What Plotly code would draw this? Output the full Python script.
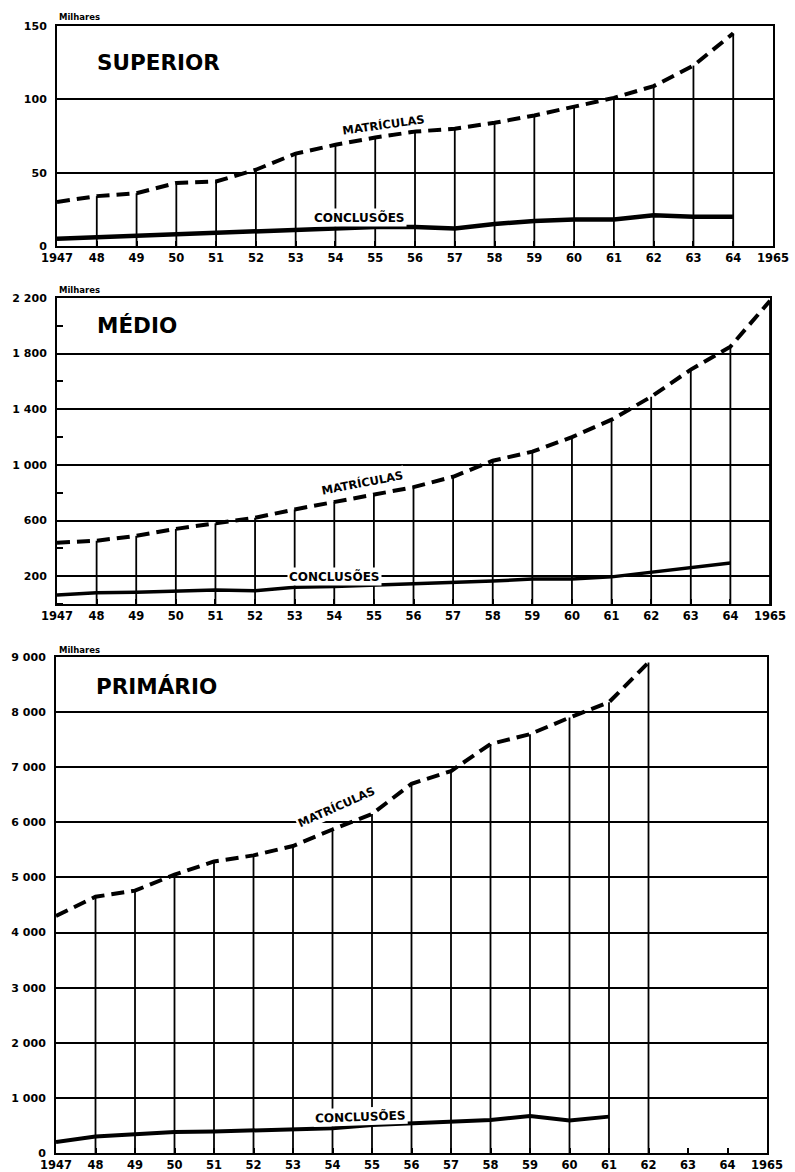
import plotly.graph_objects as go

# ---------------- data (thousands) ----------------
sup_years = list(range(1947, 1965))
sup_matriculas = [30, 34, 36, 43, 44, 52, 63, 69, 74, 78, 80, 84, 89, 95, 101, 109, 123, 145]
sup_conclusoes = [5, 6, 7, 8, 9, 10, 11, 12, 13, 13, 12, 15, 17, 18, 18, 21, 20, 20]

med_mat_years = list(range(1947, 1966))
med_matriculas = [440, 455, 490, 540, 580, 620, 680, 735, 785, 840, 915, 1030, 1095, 1200,
                  1325, 1490, 1685, 1850, 2180]
med_con_years = list(range(1947, 1965))
med_conclusoes = [65, 80, 85, 95, 100, 95, 120, 125, 135, 145, 150, 165, 180, 180, 195, 230, 260, 295]

pri_mat_years = list(range(1947, 1963))
pri_matriculas = [4300, 4650, 4760, 5050, 5290, 5400, 5570, 5870, 6150, 6700, 6930, 7420,
                  7600, 7900, 8180, 8900]
pri_con_years = list(range(1947, 1962))
pri_conclusoes = [200, 300, 340, 380, 390, 410, 420, 450, 510, 540, 560, 600, 670, 590, 660]

x_tickvals = list(range(1947, 1966))
x_ticktext = ["1947", "48", "49", "50", "51", "52", "53", "54", "55", "56", "57", "58",
              "59", "60", "61", "62", "63", "64", "1965"]

sup_tickvals = [0, 50, 100, 150]
sup_ticktext = ["0", "50", "100", "150"]
med_tickvals = [200, 600, 1000, 1400, 1800, 2200]
med_ticktext = ["200", "600", "1 000", "1 400", "1 800", "2 200"]
pri_tickvals = [0, 1000, 2000, 3000, 4000, 5000, 6000, 7000, 8000, 9000]
pri_ticktext = ["0", "1 000", "2 000", "3 000", "4 000", "5 000", "6 000", "7 000", "8 000", "9 000"]

titles = ["SUPERIOR", "MÉDIO", "PRIMÁRIO"]

# ---------------- layout helpers ----------------
W, H = 795, 1172
FONT = "DejaVu Sans"


def xd(l, r):
    return [l / W, r / W]


def yd(t, b):
    return [1 - b / H, 1 - t / H]


fig = go.Figure()


def drop_lines(years, values):
    xs, ys = [], []
    for yr, v in zip(years[1:], values[1:]):
        xs += [yr, yr, None]
        ys += [0, v, None]
    return xs, ys


panels = [
    (sup_years, sup_matriculas, sup_years, sup_conclusoes, "x", "y", 4.5, 4.0),
    (med_mat_years, med_matriculas, med_con_years, med_conclusoes, "x2", "y2", 3.5, 4.0),
    (pri_mat_years, pri_matriculas, pri_con_years, pri_conclusoes, "x3", "y3", 4.0, 4.0),
]

for my, mv, cy, cv, xa, ya, cw, mw in panels:
    dx, dy = drop_lines(my, mv)
    fig.add_trace(go.Scatter(x=dx, y=dy, mode="lines", xaxis=xa, yaxis=ya,
                             line=dict(color="black", width=1.8), showlegend=False,
                             hoverinfo="skip"))
    fig.add_trace(go.Scatter(x=cy, y=cv, mode="lines", xaxis=xa, yaxis=ya,
                             line=dict(color="black", width=cw), showlegend=False,
                             name="CONCLUSÕES"))
    fig.add_trace(go.Scatter(x=my, y=mv, mode="lines", xaxis=xa, yaxis=ya,
                             line=dict(color="black", width=mw, dash="13px,7px"),
                             showlegend=False, name="MATRÍCULAS"))

tickfont = dict(family=FONT, size=11, color="black", weight="bold")
xtickfont = dict(family=FONT, size=11.5, color="black", weight="bold")


def xaxis(dom, anchor):
    return dict(domain=dom, anchor=anchor, range=[1947, 1965], tickmode="array",
                tickvals=x_tickvals, ticktext=x_ticktext, tickfont=xtickfont,
                showgrid=False, zeroline=False, showline=True, linecolor="black",
                linewidth=2, mirror=True, ticks="inside", ticklen=5, tickwidth=1.5,
                tickcolor="black", tickangle=0, automargin=False)


def yaxis(dom, anchor, rng, tv, tt, minor=None):
    d = dict(domain=dom, anchor=anchor, range=rng, tickmode="array", tickvals=tv,
             ticktext=tt, tickfont=tickfont, showgrid=True, gridcolor="black",
             gridwidth=1.5, zeroline=False, showline=True, linecolor="black",
             linewidth=2, mirror=True, ticks="", ticklabelstandoff=6, automargin=False)
    if minor:
        d["minor"] = minor
    return d


fig.update_layout(
    width=W, height=H, margin=dict(l=0, r=0, t=0, b=0, autoexpand=False),
    paper_bgcolor="white", plot_bgcolor="white",
    xaxis=xaxis(xd(57, 773), "y"),
    yaxis=yaxis(yd(26, 246), "x", [0, 150], sup_tickvals, sup_ticktext),
    xaxis2=xaxis(xd(57, 770), "y2"),
    yaxis2=yaxis(yd(298, 604), "x2", [0, 2200], med_tickvals, med_ticktext,
                 minor=dict(tickmode="linear", tick0=0, dtick=400, ticks="inside",
                            ticklen=6, tickwidth=1.5, tickcolor="black", showgrid=False)),
    xaxis3=xaxis(xd(56, 767), "y3"),
    yaxis3=yaxis(yd(657, 1153), "x3", [0, 9000], pri_tickvals, pri_ticktext),
)

ann = []
# panel titles
for t, xa, ya, yv in [(titles[0], "x", "y", 125), (titles[1], "x2", "y2", 2000),
                      (titles[2], "x3", "y3", 8470)]:
    ann.append(dict(text=t, x=1947.95, y=yv, xref=xa, yref=ya, xanchor="left",
                    yanchor="middle", showarrow=False,
                    font=dict(family=FONT, size=21.5, color="black", weight="bold")))

# "Milhares" unit labels
for ypx in [17, 290, 650]:
    ann.append(dict(text="Milhares", x=57 / W, y=1 - ypx / H, xref="paper", yref="paper",
                    xanchor="left", yanchor="middle", showarrow=False,
                    font=dict(family=FONT, size=8.5, color="black", weight="bold")))

mat_font = dict(family=FONT, size=11.5, color="black", weight="bold")
con_font = dict(family=FONT, size=12, color="black", weight="bold")
# series labels
ann += [
    dict(text="MATRÍCULAS", x=1955.2, y=83, xref="x", yref="y", textangle=-8,
         showarrow=False, font=mat_font, bgcolor="white"),
    dict(text="CONCLUSÕES", x=1954.6, y=19.5, xref="x", yref="y", showarrow=False,
         font=con_font, bgcolor="white"),
    dict(text="MATRÍCULAS", x=1954.7, y=870, xref="x2", yref="y2", textangle=-11,
         showarrow=False, font=mat_font, bgcolor="white"),
    dict(text="CONCLUSÕES", x=1954.0, y=200, xref="x2", yref="y2", showarrow=False,
         font=con_font, bgcolor="white"),
    dict(text="MATRÍCULAS", x=1954.1, y=6280, xref="x3", yref="y3", textangle=-24,
         showarrow=False, font=mat_font, bgcolor="white"),
    dict(text="CONCLUSÕES", x=1954.7, y=660, xref="x3", yref="y3", showarrow=False,
         font=con_font, bgcolor="white", textangle=-2),
]
fig.update_layout(annotations=ann)

fig.write_html("out.html", config={"displayModeBar": False},
               post_script="document.body.style.margin='0';document.body.style.overflow='hidden';")
